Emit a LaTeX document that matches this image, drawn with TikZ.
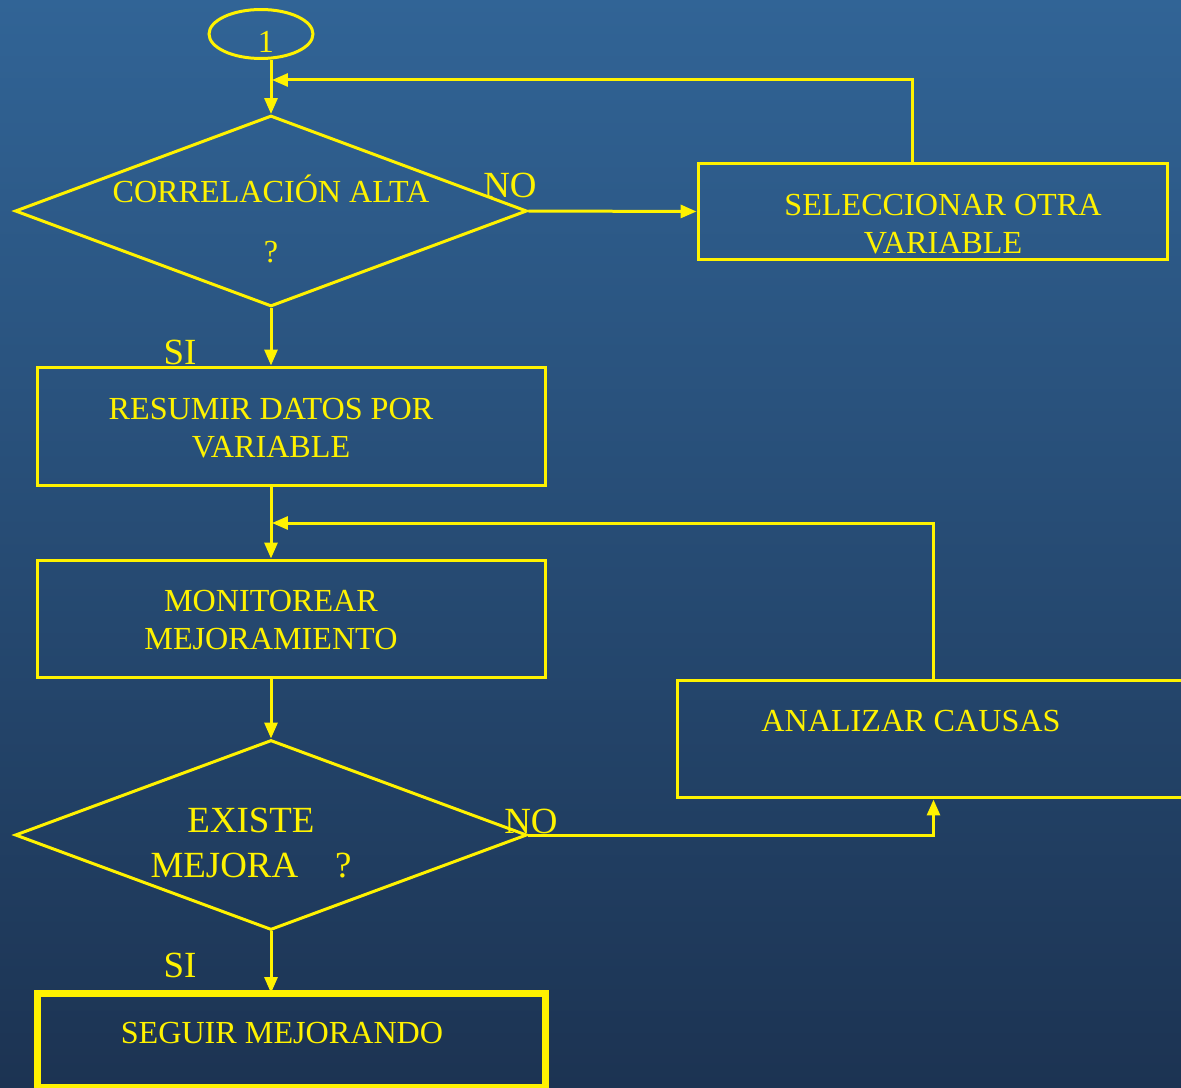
\documentclass[tikz,border=0pt]{standalone}
\usepackage{fontspec}
\setmainfont{Liberation Serif}
\usetikzlibrary{shapes,arrows.meta}
\definecolor{bgtop}{RGB}{49,100,150}
\definecolor{bgbot}{RGB}{28,51,82}

\begin{document}
\begin{tikzpicture}[x=0.02cm, y=-0.02cm, line width=0.06cm, draw=yellow,
	every node/.style={text=yellow, font=\fontsize{18.3}{21.8}\selectfont, inner sep=0pt, align=center},
	box/.style={draw, rectangle, minimum width=10.18cm, minimum height=2.36cm},
	decision/.style={draw, diamond, minimum width=10.24cm, minimum height=3.82cm},
	big/.style={font=\fontsize{21}{25.5}\selectfont},
	arr/.style={-{Triangle[length=0.32cm,width=0.26cm]}}]
\shade[top color=bgtop, bottom color=bgbot] (0,0) rectangle (1181,1088);
\useasboundingbox (0,0) rectangle (1181,1088);

% nodes
\node[draw, ellipse, minimum width=2.08cm, minimum height=0.98cm] (one) at (261,34) {};
\node (onetxt) at (266,42) {1};
\node[decision] (corr) at (271,211) {};
\node[anchor=base] (corrtxt) at (271,203) {CORRELACIÓN ALTA};
\node (corrq) at (271,252) {?};
\node[box, minimum width=9.4cm, minimum height=1.94cm] (sel) at (933,211.5) {};
\node (seltxt) at (943,224) {SELECCIONAR OTRA\\VARIABLE};
\node[box, minimum height=2.38cm] (res) at (291.5,426.5) {};
\node (restxt) at (271,428) {RESUMIR DATOS POR\\VARIABLE};
\node[box] (mon) at (291.5,619) {};
\node (montxt) at (271,620) {MONITOREAR\\MEJORAMIENTO};
\node[decision, minimum height=3.8cm] (ex) at (271,835) {};
\node[big] (extxt) at (251,843) {EXISTE\\MEJORA\quad ?};
\node[box, minimum width=10.26cm] (ana) at (933.5,739) {};
\node (anatxt) at (911,721) {ANALIZAR CAUSAS};
\node[box, line width=0.14cm, minimum width=10.16cm, minimum height=1.9cm] (seg) at (291.5,1040.5) {};
\node (segtxt) at (282,1033) {SEGUIR MEJORANDO};

% etiquetas
\node[big] (no1) at (510,185) {NO};
\node[big] (si1) at (180,352) {SI};
\node[big] (no2) at (531,821) {NO};
\node[big] (si2) at (180,965) {SI};

% conectores
\coordinate (j1) at (272,80);
\coordinate (j2) at (272,523);
\draw[arr] (one.south -| corr.north) -- (corr.north);
\draw[arr] ([xshift=-0.42cm]sel.north) |- (j1);
\draw[arr] (corr.east) -- (sel.west);
\draw[arr] (corr.south) -- (res.north -| corr.south);
\draw[arr] (res.south -| corr.south) -- (mon.north -| corr.south);
\draw[arr] (ana.north) |- (j2);
\draw[arr] (mon.south -| ex.north) -- (ex.north);
\draw[arr] (ex.east) -| (ana.south);
\draw[arr] (ex.south) -- ([yshift=-0.07cm]seg.north -| ex.south);
\end{tikzpicture}
\end{document}
